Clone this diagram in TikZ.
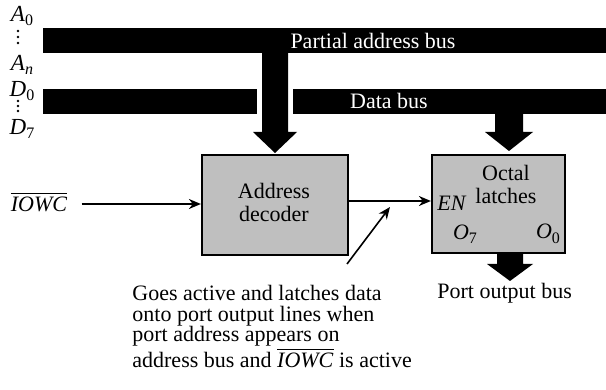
\documentclass[tikz,border=0pt]{standalone}
\usepackage{fontspec}
\setmainfont{Liberation Serif}
\newfontfamily\tnr{Liberation Serif}
\usetikzlibrary{arrows.meta}

% italic signal name with a lowered index
\newcommand\sig[2]{\textit{#1}\raisebox{-0.45ex}{\footnotesize #2}}

\begin{document}
\begin{tikzpicture}[x=0.5pt,y=-0.5pt,
  busbar/.style={fill=black, draw=none},
  buslabel/.style={text=white, inner sep=0pt, font=\tnr\fontsize{11}{12}\selectfont},
  blk/.style={draw=black, line width=1.1pt, fill=black!25},
  boxtext/.style={inner sep=0pt, font=\tnr\fontsize{11}{11.5}\selectfont, align=center},
  pinlbl/.style={inner sep=0pt, font=\tnr\fontsize{11}{12}\selectfont},
  sidelbl/.style={inner sep=0pt, font=\tnr\fontsize{11.5}{12}\selectfont},
  note/.style={inner sep=0pt, align=left, font=\tnr\fontsize{11}{10.3}\selectfont},
  conn/.style={line width=0.8pt, -{Stealth[length=6pt,width=5pt]}},
  dot/.style={fill=black},
]
\useasboundingbox (0,0) rectangle (606,390);

% side labels of the two buses
\node[sidelbl] (a0) at (22,16) {\sig{A}{0}};
\node[sidelbl] (an) at (22,65) {\sig{A}{\textit{n}}};
\node[sidelbl] (d0) at (22,91) {\sig{D}{0}};
\node[sidelbl] (d7) at (22,129) {\sig{D}{7}};
\foreach \yy in {31,37,43} \fill[dot] (18,\yy) circle (0.7pt);
\foreach \yy in {101,106,111} \fill[dot] (18,\yy) circle (0.7pt);

% buses
\path[busbar] (43,28) rectangle (606,53);
\path[busbar] (43,89) rectangle (606,114);
\node[buslabel] (abuslbl) at (373,41) {Partial address bus};
\node[buslabel] (dbuslbl) at (389,101) {Data bus};

% blocks
\node[blk, minimum width=73pt, minimum height=50pt] (dec) at (275,205) {};
\node[boxtext] (dectxt) at (274,202) {Address\\decoder};
\node[blk, minimum width=66.5pt, minimum height=49pt] (lat) at (498.5,204) {};
\node[boxtext] (lattxt) at (506,184) {Octal\\latches};
\node[pinlbl] (en) at (452,203) {\textit{EN}};
\node[pinlbl] (o7) at (465,234) {\sig{O}{7}};
\node[pinlbl] (o0) at (548,234) {\sig{O}{0}};

% wide arrow from the address bus, crossing the data bus
\fill[white] (257,89) rectangle (293,114);
\fill (262,53) -- (288,53) -- (288,132) -- (297,132) -- (275,153)
      -- (253,132) -- (262,132) -- cycle;
% wide arrow from the data bus
\fill (495,114) -- (523,114) -- (523,132) -- (533,132) -- (509,151)
      -- (485,132) -- (495,132) -- cycle;
% wide arrow to the port output bus
\fill (497,253) -- (523,253) -- (523,264) -- (533,264) -- (510,281)
      -- (487,264) -- (497,264) -- cycle;

% control signal
\node[pinlbl] (iowc) at (39,202) {$\overline{\mbox{\tnr\textit{IOWC}}}$};
\draw[conn, shorten <=7pt] ([yshift=-1pt]iowc.east) -- ([yshift=-1pt]iowc.east -| dec.west);
\draw[conn] ([yshift=2pt]dec.east) -- ([yshift=2pt]dec.east -| lat.west);

% annotation
\node[note, anchor=north west] (notetxt) at (132,285)
  {Goes active and latches data\\
   onto port output lines when\\
   port address appears on\\
   address bus and $\overline{\mbox{\tnr\textit{IOWC}}}$ is active};
\coordinate (ptail) at (347,264);
\coordinate (ptip) at (390,207);
\draw[conn] (ptail) -- (ptip);

\node[pinlbl, anchor=base west] (portlbl) at (437,299) {Port output bus};
\end{tikzpicture}
\end{document}
